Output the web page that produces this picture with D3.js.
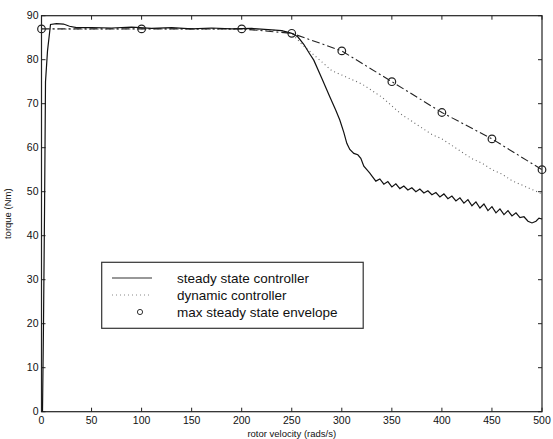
<!DOCTYPE html>
<html>
<head>
<meta charset="utf-8">
<script src="https://cdn.jsdelivr.net/npm/d3@7"></script>
<style>
body { margin: 0; background: #fff; }
text { font-family: "Liberation Sans", Arial, sans-serif; fill: #111; }
</style>
</head>
<body>
<svg width="553" height="439"></svg>
<script>
// data
var xTicks = [0, 50, 100, 150, 200, 250, 300, 350, 400, 450, 500];
var yTicks = [0, 10, 20, 30, 40, 50, 60, 70, 80, 90];

var steady = [[1,0],[2,20],[3,45],[4,75],[6,82],[9,88],[15,88.2],[22,88.1],[28,87.6],[35,87.3],
  [50,87.3],[70,87.2],[90,87.4],[110,87.1],[130,87.3],[150,87.0],[170,87.2],[190,87.0],[210,87.1],
  [230,86.8],[240,86.6],[250,86.0],[256,85.2],[262,83.5],[268,81.3],[272,79.9],[280,75.8],[288,71.6],
  [294,68.5],[298,66.3],[302,63.5],[305,61],[308,59.6],[312,58.7],[316,58.4],[319,57.6],[322,55.8],
  [325,55.0],[328,54.2],[330,53.6],[334,52.4],[338,52.9],[342,51.7],[346,52.3],[350,51.1],[354,51.8],
  [358,50.7],[362,51.3],[366,50.4],[370,50.9],[374,50.0],[378,50.6],[382,49.7],[386,50.2],[390,49.3],
  [394,49.8],[398,48.8],[402,49.5],[406,48.4],[410,49.0],[414,47.9],[418,48.6],[422,47.4],[426,48.2],
  [430,46.8],[434,47.7],[438,46.3],[442,47.2],[446,45.7],[450,46.6],[454,45.2],[458,46.1],[462,44.8],
  [466,45.7],[470,44.5],[474,45.2],[478,44.1],[482,44.3],[486,43.3],[490,42.9],[494,43.3],[497,44.0],
  [500,43.8]];

var dynamic = [[0,87],[50,86.9],[100,87],[150,86.9],[200,86.9],[240,86.6],[250,86],[260,83.5],[270,81.5],
  [280,79.5],[290,77.5],[300,76.5],[310,75.5],[320,74.5],[330,73],[340,71.5],[350,69.5],[360,67.5],
  [370,66],[380,64.5],[390,63],[400,62],[410,60.5],[420,59],[430,57.5],[440,56.5],[450,55],[460,54],
  [470,52.5],[480,51.5],[490,50.5],[500,49.5]];

var envelope = [[0,87],[100,87],[200,87],[250,86],[300,82],[350,75],[400,68],[450,62],[500,55]];

var legendLabels = ["steady state controller", "dynamic controller", "max steady state envelope"];

var svg = d3.select("svg");
var plotL = 41.5, plotR = 542, plotT = 15.7, plotB = 411.7;

var x = d3.scaleLinear().domain([0, 500]).range([plotL, plotR]);
var y = d3.scaleLinear().domain([0, 90]).range([plotB, plotT]);

var line = d3.line().x(d => x(d[0])).y(d => y(d[1]));

// frame
svg.append("rect")
  .attr("x", plotL).attr("y", plotT)
  .attr("width", plotR - plotL).attr("height", plotB - plotT)
  .attr("fill", "none").attr("stroke", "#222").attr("stroke-width", 1.2);

// inward ticks on all sides
var g = svg.append("g").attr("stroke", "#222").attr("stroke-width", 1);
xTicks.forEach(function(t) {
  g.append("line").attr("x1", x(t)).attr("x2", x(t)).attr("y1", plotB).attr("y2", plotB - 4);
  g.append("line").attr("x1", x(t)).attr("x2", x(t)).attr("y1", plotT).attr("y2", plotT + 4);
});
yTicks.forEach(function(t) {
  g.append("line").attr("x1", plotL).attr("x2", plotL + 4).attr("y1", y(t)).attr("y2", y(t));
  g.append("line").attr("x1", plotR).attr("x2", plotR - 4).attr("y1", y(t)).attr("y2", y(t));
});

svg.selectAll(".xl").data(xTicks).enter().append("text")
  .attr("x", d => x(d)).attr("y", plotB + 12)
  .attr("text-anchor", "middle").attr("font-size", 10.5)
  .text(d => d);

svg.selectAll(".yl").data(yTicks).enter().append("text")
  .attr("x", plotL - 3).attr("y", d => y(d) + 3.5)
  .attr("text-anchor", "end").attr("font-size", 10.5)
  .text(d => d);

svg.append("text")
  .attr("x", (plotL + plotR) / 2).attr("y", 437)
  .attr("text-anchor", "middle").attr("font-size", 9.5)
  .text("rotor velocity (rads/s)");

svg.append("text")
  .attr("transform", "translate(11," + ((plotT + plotB) / 2) + ") rotate(-90)")
  .attr("text-anchor", "middle").attr("font-size", 9.5)
  .text("torque (Nm)");

// series
svg.append("path").datum(dynamic).attr("d", line)
  .attr("fill", "none").attr("stroke", "#666").attr("stroke-width", 1.1)
  .attr("stroke-dasharray", "1,3");

svg.append("path").datum(envelope).attr("d", line)
  .attr("fill", "none").attr("stroke", "#222").attr("stroke-width", 1.1)
  .attr("stroke-dasharray", "8,3,2,3");

svg.append("path").datum(steady).attr("d", line)
  .attr("fill", "none").attr("stroke", "#111").attr("stroke-width", 1.2);

svg.selectAll(".env").data(envelope).enter().append("circle")
  .attr("cx", d => x(d[0])).attr("cy", d => y(d[1])).attr("r", 3.8)
  .attr("fill", "none").attr("stroke", "#222").attr("stroke-width", 1.2);

// legend
var lg = svg.append("g");
lg.append("rect").attr("x", 101.7).attr("y", 262.3).attr("width", 261.5).attr("height", 66)
  .attr("fill", "#fff").attr("stroke", "#333").attr("stroke-width", 1.2);

var rowY = [278, 295, 312];
lg.append("line").attr("x1", 112).attr("x2", 152).attr("y1", rowY[0]).attr("y2", rowY[0])
  .attr("stroke", "#333").attr("stroke-width", 1.2);
lg.append("line").attr("x1", 112).attr("x2", 152).attr("y1", rowY[1]).attr("y2", rowY[1])
  .attr("stroke", "#888").attr("stroke-width", 1).attr("stroke-dasharray", "1,3");
lg.append("circle").attr("cx", 140).attr("cy", rowY[2]).attr("r", 2.6)
  .attr("fill", "none").attr("stroke", "#333").attr("stroke-width", 1);

lg.selectAll("text").data(legendLabels).enter().append("text")
  .attr("x", 177).attr("y", (d, i) => rowY[i] + 4.5)
  .attr("font-size", 13.5)
  .text(d => d);
</script>
</body>
</html>
